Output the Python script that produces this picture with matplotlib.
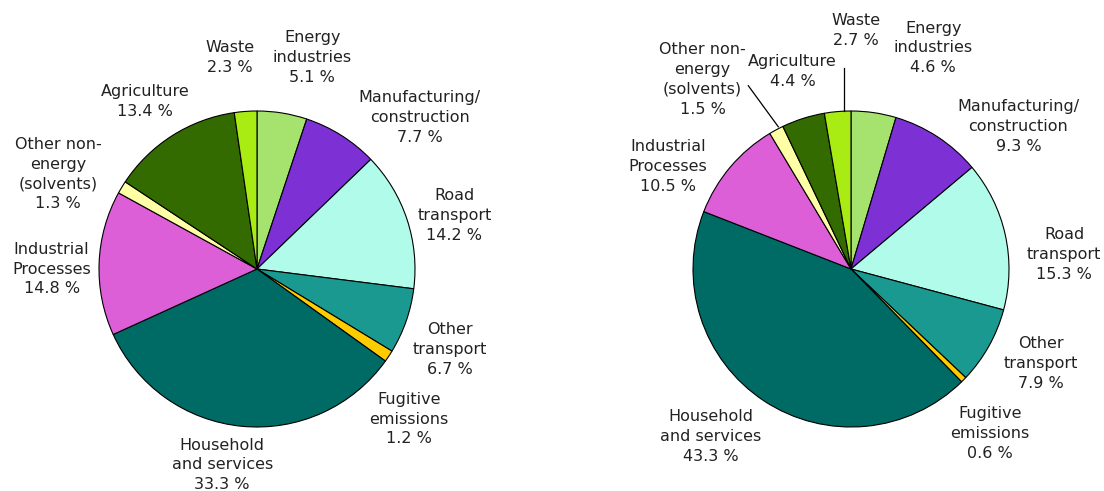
import numpy as np
import matplotlib.pyplot as plt

# sectors, clockwise from 12 o'clock
sectors = ['Energy\nindustries', 'Manufacturing/\nconstruction', 'Road\ntransport',
           'Other\ntransport', 'Fugitive\nemissions', 'Household\nand services',
           'Industrial\nProcesses', 'Other non-\nenergy\n(solvents)', 'Agriculture', 'Waste']
colors = ['#a6e26e', '#7d30d4', '#b0fbe9', '#199990', '#ffcc00',
          '#006a64', '#dc5fd8', '#ffffa6', '#336b00', '#a8ec14']

left_share = [5.1, 7.7, 14.2, 6.7, 1.2, 33.3, 14.8, 1.3, 13.4, 2.3]
right_share = [4.6, 9.3, 15.3, 7.9, 0.6, 43.3, 10.5, 1.5, 4.4, 2.7]

# label centres in pie units (radius 1)
left_lab = [(0.35, 1.34), (1.03, 0.96), (1.25, 0.34), (1.22, -0.51), (0.96, -0.95),
            (-0.22, -1.24), (-1.30, 0.0), (-1.26, 0.60), (-0.71, 1.06), (-0.17, 1.34)]
right_lab = [(0.52, 1.40), (1.06, 0.90), (1.35, 0.09), (1.20, -0.60), (0.88, -1.04),
             (-0.89, -1.06), (-1.16, 0.65), (-0.94, 1.20), (-0.37, 1.25), (0.03, 1.51)]
# leader lines on right pie: (from, to)
right_leaders = [((-0.65, 1.16), (-0.46, 0.90)), ((-0.044, 1.27), (-0.044, 1.0))]

W, H = 1104, 491
R = 158.0
half = 1.7
fig = plt.figure(figsize=(W / 100, H / 100), dpi=100)


def draw(cx, cy, shares, labs, leaders):
    s = half * R
    ax = fig.add_axes([(cx - s) / W, (H - cy - s) / H, 2 * s / W, 2 * s / H])
    ax.pie(shares, colors=colors, startangle=90, counterclock=False,
           wedgeprops=dict(edgecolor='black', linewidth=0.8))
    ax.set_xlim(-half, half)
    ax.set_ylim(-half, half)
    ax.axis('off')
    for name, val, (x, y) in zip(sectors, shares, labs):
        ax.text(x, y, f'{name}\n{val:.1f} %', ha='center', va='center',
                fontsize=11.5, color='#222222', linespacing=1.4, clip_on=False)
    for (x0, y0), (x1, y1) in leaders:
        ax.plot([x0, x1], [y0, y1], color='black', lw=0.9, clip_on=False)


draw(257, 269, left_share, left_lab, [])
draw(851, 269, right_share, right_lab, right_leaders)

fig.savefig('out.png', dpi=100, facecolor='white')
